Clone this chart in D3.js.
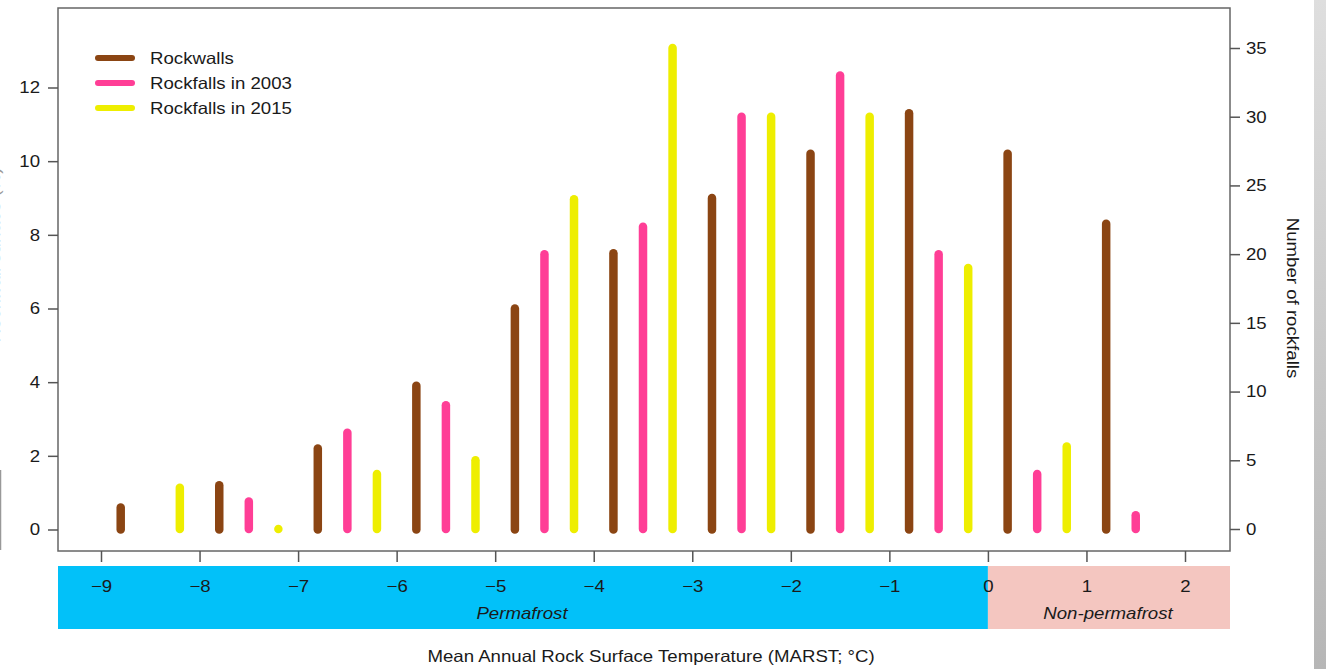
<!doctype html>
<html lang="en">
<head>
<meta charset="utf-8">
<title>Rockwalls and rockfalls vs MARST</title>
<style>
  html, body { margin: 0; padding: 0; background: #fff; }
  svg { display: block; font-family: "Liberation Sans", Arial, sans-serif; }
</style>
</head>
<body>
<svg id="chart" width="1326" height="669"></svg>
<script src="https://cdn.jsdelivr.net/npm/d3@7"></script>
<script>
// data
var rockwallX = [-8.8, -7.8, -6.8, -5.8, -4.8, -3.8, -2.8, -1.8, -0.8, 0.2, 1.2];
var rockwallPct = [0.6, 1.2, 2.2, 3.9, 6.0, 7.5, 9.0, 10.2, 11.3, 10.2, 8.3];

var falls2003X = [-7.5, -6.5, -5.5, -4.5, -3.5, -2.5, -1.5, -0.5, 0.5, 1.5];
var falls2003 = [2, 7, 9, 20, 22, 30, 33, 20, 4, 1];

var falls2015X = [-8.2, -7.2, -6.2, -5.2, -4.2, -3.2, -2.2, -1.2, -0.2, 0.8];
var falls2015 = [3, 0, 4, 5, 24, 35, 30, 30, 19, 6];

var xTicks = [-9, -8, -7, -6, -5, -4, -3, -2, -1, 0, 1, 2];
var leftTicks = [0, 2, 4, 6, 8, 10, 12];
var rightTicks = [0, 5, 10, 15, 20, 25, 30, 35];

var legendItems = ["Rockwalls", "Rockfalls in 2003", "Rockfalls in 2015"];
var colors = ["#8B4513", "#FF3E96", "#EEEE00"];

var svg = d3.select("#chart");

// plot box
var box = {left: 58, right: 1230, top: 8, bottom: 551};
var sx = 1.13;      // text in the original is a little wider than Liberation Sans
var fs = 16.5;
var ink = "#1a1a1a";

var x = d3.scaleLinear().domain([-9, 2]).range([101, 1185]);
var yL = d3.scaleLinear().domain([0, 12]).range([529.5, 87.5]);
var yR = d3.scaleLinear().domain([0, 35]).range([529, 48]);

var fmt = function(d) { return String(d).replace("-", "\u2212"); };

function label(tx, ty, rot, str, anchor, italic) {
  var t = svg.append("text")
    .attr("transform", "translate(" + tx + "," + ty + ")" + (rot ? " rotate(" + rot + ")" : "") + " scale(" + sx + ",1)")
    .attr("text-anchor", anchor || "middle")
    .attr("font-size", fs)
    .attr("fill", ink)
    .text(str);
  if (italic) t.attr("font-style", "italic");
  return t;
}

// gray strip at the right edge
var grad = svg.append("defs").append("linearGradient")
  .attr("id", "strip").attr("x1", 0).attr("y1", 0).attr("x2", 0).attr("y2", 1);
grad.append("stop").attr("offset", "0%").attr("stop-color", "#dedede");
grad.append("stop").attr("offset", "100%").attr("stop-color", "#b6b6b6");
svg.append("rect").attr("x", 1314).attr("y", 0).attr("width", 12).attr("height", 669)
  .attr("fill", "url(#strip)");

// left axis title, cut off by the left edge as in the original
label(0, 255, -90, "Rockwall surface (%)").attr("fill", "#999");
svg.append("line").attr("x1", 0.5).attr("x2", 0.5).attr("y1", 470).attr("y2", 550)
  .attr("stroke", "#999").attr("stroke-width", 1.5);

// bands under the x axis
svg.append("rect").attr("x", box.left).attr("y", 566)
  .attr("width", x(0) - box.left).attr("height", 63).attr("fill", "#02C1F9");
svg.append("rect").attr("x", x(0)).attr("y", 566)
  .attr("width", box.right - x(0)).attr("height", 63).attr("fill", "#F4C6C0");

label(522, 619, 0, "Permafrost", "middle", true);
label(1108, 619, 0, "Non-permafrost", "middle", true);

// box
svg.append("rect").attr("x", box.left).attr("y", box.top)
  .attr("width", box.right - box.left).attr("height", box.bottom - box.top)
  .attr("fill", "none").attr("stroke", "#666").attr("stroke-width", 1.5);

// axes
var axisColor = "#555";

var xAxis = svg.append("g").attr("transform", "translate(0," + box.bottom + ")")
  .call(d3.axisBottom(x).tickValues(xTicks).tickSize(11).tickFormat(fmt));
xAxis.select(".domain").remove();
xAxis.selectAll("line").attr("stroke", axisColor).attr("stroke-width", 1.5);
xAxis.selectAll("text").attr("font-size", fs).attr("fill", ink)
  .attr("font-family", "Liberation Sans, Arial, sans-serif")
  .attr("y", 35).attr("dy", "0.35em")
  .attr("transform", "scale(" + sx + ",1)");

var lAxis = svg.append("g").attr("transform", "translate(" + box.left + ",0)")
  .call(d3.axisLeft(yL).tickValues(leftTicks).tickSize(10));
lAxis.select(".domain").remove();
lAxis.selectAll("line").attr("stroke", axisColor).attr("stroke-width", 1.5);
lAxis.selectAll("text").attr("font-size", fs).attr("fill", ink)
  .attr("font-family", "Liberation Sans, Arial, sans-serif")
  .attr("x", -18 / sx).attr("transform", "scale(" + sx + ",1)");

var rAxis = svg.append("g").attr("transform", "translate(" + box.right + ",0)")
  .call(d3.axisRight(yR).tickValues(rightTicks).tickSize(10));
rAxis.select(".domain").remove();
rAxis.selectAll("line").attr("stroke", axisColor).attr("stroke-width", 1.5);
rAxis.selectAll("text").attr("font-size", fs).attr("fill", ink)
  .attr("font-family", "Liberation Sans, Arial, sans-serif")
  .attr("x", 16 / sx).attr("transform", "scale(" + sx + ",1)");

label(1287, 298, 90, "Number of rockfalls");
label(651, 662, 0, "Mean Annual Rock Surface Temperature (MARST; \u00B0C)");

// bars (thick lines with round caps)
function drawBars(xs, vals, scale, color) {
  var pts = xs.map(function(d, i) { return {x: d, v: vals[i]}; })
    .filter(function(d) { return d.v != null; });
  svg.append("g").selectAll("line").data(pts).join("line")
    .attr("x1", function(d) { return x(d.x); })
    .attr("x2", function(d) { return x(d.x); })
    .attr("y1", scale(0))
    .attr("y2", function(d) { return scale(d.v); })
    .attr("stroke", color)
    .attr("stroke-width", 8.5)
    .attr("stroke-linecap", "round");
}
drawBars(rockwallX, rockwallPct, yL, colors[0]);
drawBars(falls2003X, falls2003, yR, colors[1]);
drawBars(falls2015X, falls2015, yR, colors[2]);

// legend
legendItems.forEach(function(d, i) {
  var ly = 58 + i * 25;
  svg.append("line").attr("x1", 98).attr("x2", 132).attr("y1", ly).attr("y2", ly)
    .attr("stroke", colors[i]).attr("stroke-width", 6).attr("stroke-linecap", "round");
  label(150, ly + 6, 0, d, "start");
});
</script>
</body>
</html>
